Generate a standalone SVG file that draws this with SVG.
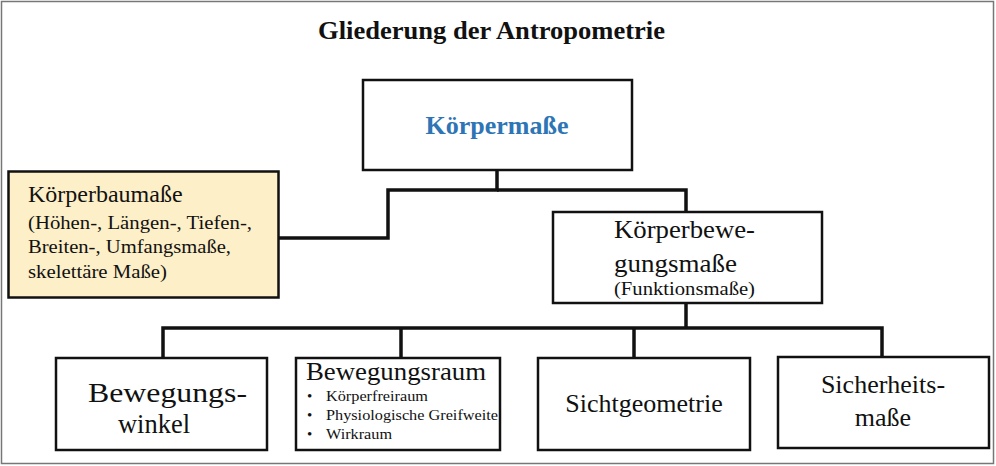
<svg xmlns="http://www.w3.org/2000/svg" width="996" height="466" viewBox="0 0 996 466" font-family="Liberation Serif, Tinos, DejaVu Serif, serif">
<style>
text{font-family:"Liberation Serif","Tinos","DejaVu Serif",serif;fill:#111}
.box{fill:#fff;stroke:#111;stroke-width:2.5}
.c{fill:none;stroke:#111;stroke-width:3.5}
.m{text-anchor:middle}
</style>
<rect x="0" y="0" width="996" height="466" fill="#fff"/>
<rect x="1.5" y="1.5" width="992" height="462" fill="none" stroke="#777" stroke-width="1.5"/>
<text x="318" y="39" font-size="25" font-weight="bold" textLength="347" lengthAdjust="spacingAndGlyphs">Gliederung der Antropometrie</text>
<g id="connectors">
<path class="c" d="M497,170 V190 H388 V238 H278"/>
<path class="c" d="M497,190 H686 V212"/>
<path class="c" d="M686,303 V328"/>
<path class="c" d="M163,358 V328 H882 V357"/>
<path class="c" d="M401,328 V358"/>
<path class="c" d="M634,328 V358"/>
</g>
<g id="koerpermasse">
<rect class="box" x="363" y="80" width="269" height="90"/>
<text x="497" y="134" class="m" font-size="26" font-weight="bold" style="fill:#2e75b6">Körpermaße</text>
</g>
<g id="koerperbaumasse">
<rect x="8.5" y="171.5" width="270" height="126" fill="#fdefc8" stroke="#111" stroke-width="2.5"/>
<text x="28" y="202" font-size="24">Körperbaumaße</text>
<text x="28" y="229" font-size="19" textLength="224" lengthAdjust="spacingAndGlyphs">(Höhen-, Längen-, Tiefen-,</text>
<text x="28" y="253" font-size="19" textLength="203" lengthAdjust="spacingAndGlyphs">Breiten-, Umfangsmaße,</text>
<text x="28" y="278" font-size="19" textLength="139" lengthAdjust="spacingAndGlyphs">skelettäre Maße)</text>
</g>
<g id="koerperbewegungsmasse">
<rect class="box" x="553" y="212" width="269" height="91"/>
<text x="614" y="238" font-size="25" textLength="141" lengthAdjust="spacingAndGlyphs">Körperbewe-</text>
<text x="614" y="272" font-size="25" textLength="123" lengthAdjust="spacingAndGlyphs">gungsmaße</text>
<text x="614" y="295" font-size="18" textLength="141" lengthAdjust="spacingAndGlyphs">(Funktionsmaße)</text>
</g>
<g id="bewegungswinkel">
<rect class="box" x="56" y="358" width="211" height="92"/>
<text x="88" y="402" font-size="27" textLength="159" lengthAdjust="spacingAndGlyphs">Bewegungs-</text>
<text x="118" y="433" font-size="27" textLength="72" lengthAdjust="spacingAndGlyphs">winkel</text>
</g>
<g id="bewegungsraum">
<rect class="box" x="296" y="358" width="204" height="92"/>
<text x="306" y="380" font-size="25" textLength="180" lengthAdjust="spacingAndGlyphs">Bewegungsraum</text>
<g font-size="15">
<text x="307" y="401">•</text><text x="326" y="401" textLength="102" lengthAdjust="spacingAndGlyphs">Körperfreiraum</text>
<text x="307" y="420">•</text><text x="326" y="420" textLength="172" lengthAdjust="spacingAndGlyphs">Physiologische Greifweite</text>
<text x="307" y="439">•</text><text x="326" y="439" textLength="66" lengthAdjust="spacingAndGlyphs">Wirkraum</text>
</g>
</g>
<g id="sichtgeometrie">
<rect class="box" x="538" y="358" width="212" height="92"/>
<text x="644" y="412" class="m" font-size="26">Sichtgeometrie</text>
</g>
<g id="sicherheitsmasse">
<rect class="box" x="778" y="357" width="211" height="91"/>
<text x="883" y="393" class="m" font-size="26">Sicherheits-</text>
<text x="883" y="426" class="m" font-size="26">maße</text>
</g>
</svg>
